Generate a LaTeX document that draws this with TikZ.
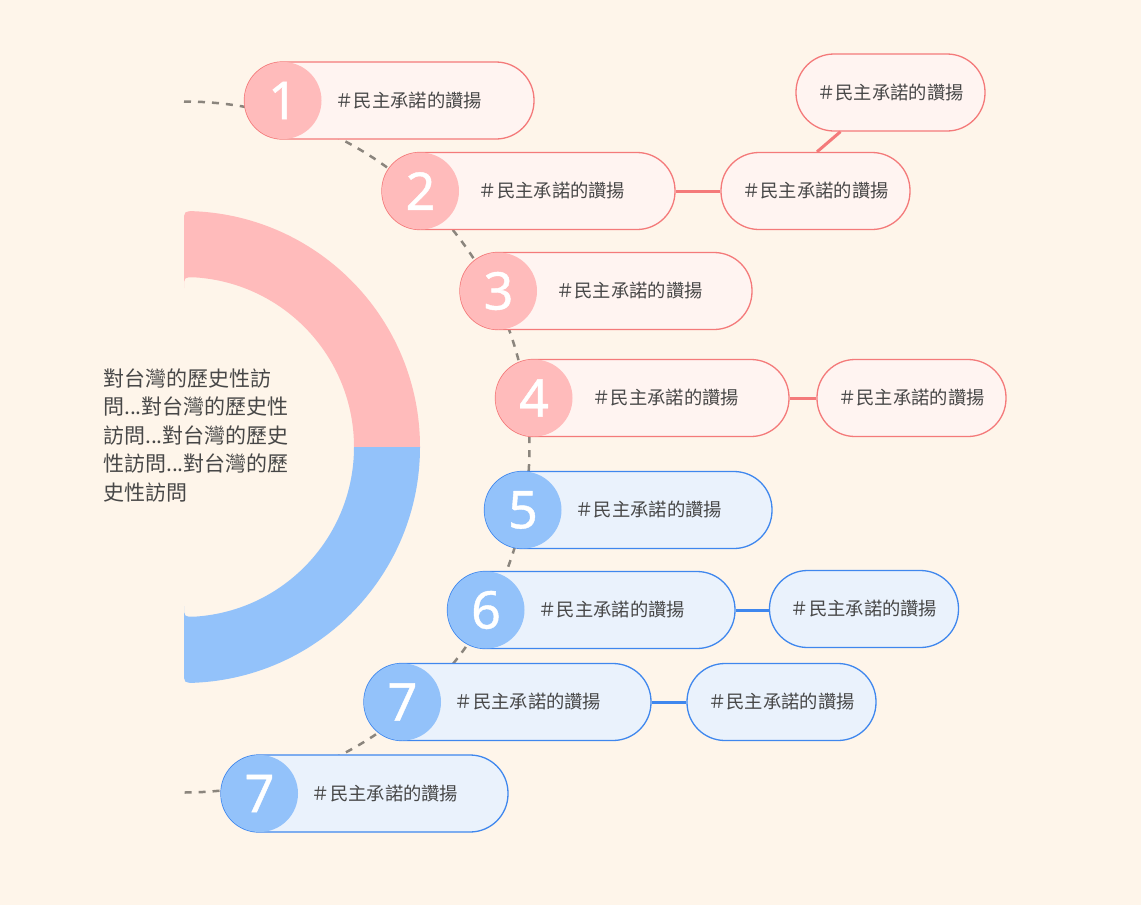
\documentclass[tikz,border=0pt]{standalone}
\usepackage{fontspec}
\newfontfamily\cjk{Noto Sans CJK TC}
\newfontfamily\numfont[FakeBold=0.8]{Noto Sans}
\usetikzlibrary{calc}
\definecolor{bg}{HTML}{FEF5EA}
\definecolor{pinkdot}{HTML}{FFBBBB}
\definecolor{bluedot}{HTML}{93C2FA}
\definecolor{pinkfill}{HTML}{FFF4F1}
\definecolor{bluefill}{HTML}{EAF2FC}
\definecolor{redline}{HTML}{F47A7A}
\definecolor{blueline}{HTML}{3F87EE}
\definecolor{dashgray}{HTML}{8B857D}
\definecolor{txt}{HTML}{474747}
\begin{document}
\begin{tikzpicture}[x=1pt,y=-1pt,
  pill/.style={rectangle, rounded corners=38pt, minimum height=77pt, inner sep=0pt,
    line width=1.3pt, text=txt, font=\cjk\fontsize{18.3}{20}\selectfont},
  pillR/.style={pill, draw=redline, fill=pinkfill},
  pillB/.style={pill, draw=blueline, fill=bluefill},
  side/.style={minimum width=189pt},
  num/.style={circle, minimum size=77pt, inner sep=0pt, text=white,
    font=\numfont\fontsize{52}{52}\selectfont},
  numR/.style={num, fill=pinkdot},
  numB/.style={num, fill=bluedot},
  link/.style={line width=3pt},
  dashline/.style={draw=dashgray, line width=2.5pt, dash pattern=on 7pt off 7pt},
  ringhalf/.pic={
    \fill (11,-235.74) arc[start angle=-87.33, end angle=0, radius=236]
      -- (170,0) arc[start angle=0, end angle=-86.29, radius=170]
      .. controls (0,-170) .. (0,-159) -- (0,-225)
      .. controls (0,-236) .. (11,-235.74) -- cycle;
  }
]
% page background
\fill[bg] (0,0) rectangle (1141,905);
\useasboundingbox (0,0) rectangle (1141,905);

% half ring: pink upper quarter, blue lower quarter
\coordinate (hub) at (184,447);
\pic[pinkdot] at (hub) {ringhalf};
\pic[bluedot, yscale=-1] at (hub) {ringhalf};

% central title
\node[font=\cjk\fontsize{21}{28.4}\selectfont, text=txt, align=left,
  anchor=north west, inner sep=0pt] (title) at (103,368.5)
  {對台灣的歷史性訪\\問...對台灣的歷史性\\訪問...對台灣的歷史\\性訪問...對台灣的歷\\史性訪問};

% dashed guide arc through the numbered items
\draw[dashline] ($(hub)+(0,-345.5)$) arc[start angle=-90, end angle=90, radius=345.5];

% numbered items
\node[pillR, minimum width=289.5pt] (p1) at (389.25,100.5) {\hspace*{39pt}＃民主承諾的讚揚};
\node[numR] (n1) at (283,100.5) {\raisebox{-3pt}{1}};

\node[pillR, minimum width=293pt] (p2) at (528.5,191) {\hspace*{47pt}＃民主承諾的讚揚};
\node[numR] (n2) at (420.5,191) {\raisebox{-3pt}{2}};

\node[pillR, minimum width=292pt] (p3) at (606,291) {\hspace*{47pt}＃民主承諾的讚揚};
\node[numR] (n3) at (498.5,291) {\raisebox{-3pt}{3}};

\node[pillR, minimum width=293.5pt] (p4) at (642.25,398) {\hspace*{47pt}＃民主承諾的讚揚};
\node[numR] (n4) at (534,398) {\raisebox{-3pt}{4}};

\node[pillB, minimum width=287.5pt] (p5) at (628.25,510) {\hspace*{41pt}＃民主承諾的讚揚};
\node[numB] (n5) at (523,510) {\raisebox{-3pt}{5}};

\node[pillB, minimum width=287.5pt] (p6) at (591.25,610) {\hspace*{41pt}＃民主承諾的讚揚};
\node[numB] (n6) at (486,610) {\raisebox{-3pt}{6}};

\node[pillB, minimum width=287pt] (p7) at (507.5,702) {\hspace*{41pt}＃民主承諾的讚揚};
\node[numB] (n7) at (402.5,702) {\raisebox{-3pt}{7}};

\node[pillB, minimum width=287pt] (p8) at (364.5,793.5) {\hspace*{41pt}＃民主承諾的讚揚};
\node[numB] (n8) at (259.5,793.5) {\raisebox{-3pt}{7}};

% side topics
\node[pillR, side] (s2) at (815.5,191) {＃民主承諾的讚揚};
\node[pillR, side] (t2) at (890.5,92.5) {＃民主承諾的讚揚};
\node[pillR, side] (s4) at (911.5,398) {＃民主承諾的讚揚};
\node[pillB, side] (s6) at (864,609) {＃民主承諾的讚揚};
\node[pillB, side] (s7) at (781.5,702) {＃民主承諾的讚揚};

% links
\draw[link, redline] (p2.east) -- (s2.west);
\draw[link, redline] ([xshift=1.5pt]s2.north) -- ([xshift=-50pt]t2.south);
\draw[link, redline] (p4.east) -- (s4.west);
\draw[link, blueline] (p6.east) -- (p6.east -| s6.west);
\draw[link, blueline] (p7.east) -- (p7.east -| s7.west);
\end{tikzpicture}
\end{document}
